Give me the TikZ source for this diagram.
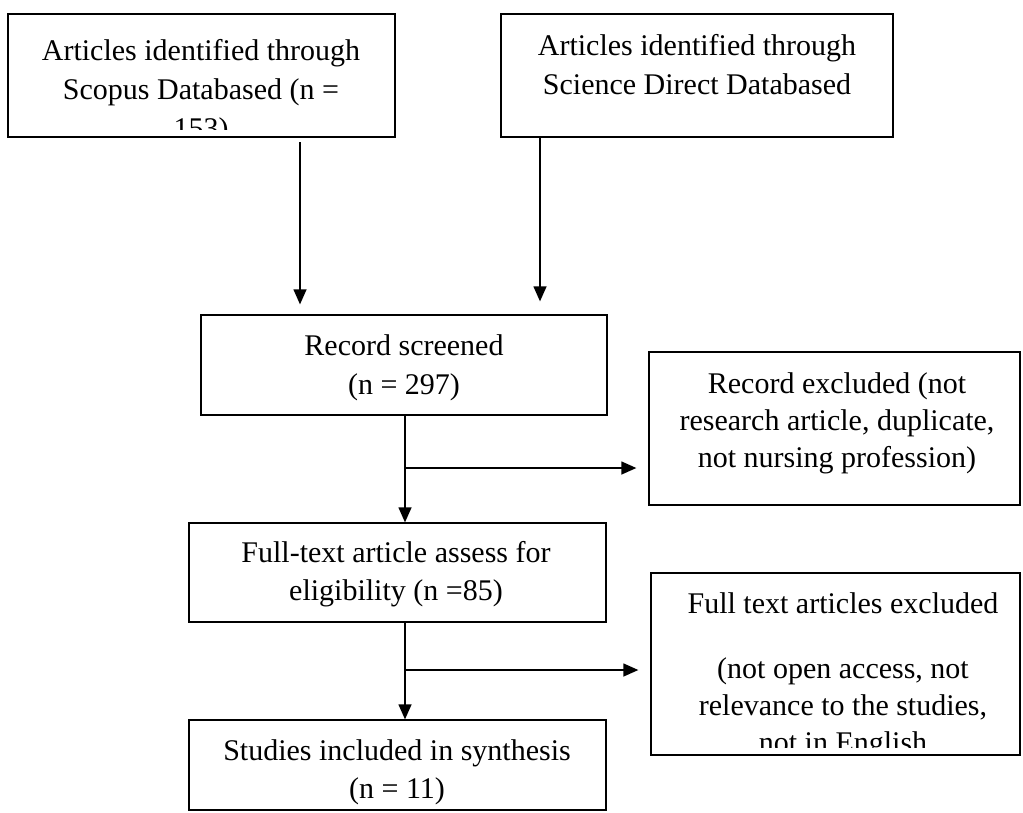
\documentclass[tikz,border=0pt]{standalone}
\usepackage{fontspec}
\setmainfont{Liberation Serif}
\usetikzlibrary{arrows.meta}
\begin{document}
\begin{tikzpicture}[x=1pt,y=-1pt,
  box/.style={draw=black, line width=1.3pt, inner sep=0pt},
  txt/.style={font=\fontsize{30}{38}\selectfont, inner sep=0pt, anchor=base},
  arr/.style={line width=1.3pt, -{Triangle[length=15pt,width=13pt]}},
  ln/.style={line width=1.3pt}]
\useasboundingbox (0,0) rectangle (1023,812);
% boxes
\node[box, minimum width=387pt, minimum height=123pt] (A) at (201.5,75.5) {};
\node[box, minimum width=392pt, minimum height=123pt] (B) at (697,75.5) {};
\node[box, minimum width=406pt, minimum height=100pt] (R) at (404,365) {};
\node[box, minimum width=371pt, minimum height=153pt] (RE) at (834.5,428.5) {};
\node[box, minimum width=417pt, minimum height=99pt] (F) at (397.5,572.5) {};
\node[box, minimum width=369pt, minimum height=182pt] (FE) at (835.5,664) {};
\node[box, minimum width=417pt, minimum height=90pt] (S) at (397.5,765) {};
% texts
\begin{scope}
\clip (8,14) rectangle (395,129);
\node[txt] (a1) at (201,60) {Articles identified through};
\node[txt] (a2) at (201,99) {Scopus Databased (n =};
\node[txt] (a3) at (201,138) {153)};
\end{scope}
\node[txt] (b1) at (697,55) {Articles identified through};
\node[txt] (b2) at (697,94) {Science Direct Databased};
\node[txt] (r1) at (404,355) {Record screened};
\node[txt] (r2) at (404,394) {(n = 297)};
\node[txt] (re1) at (837,393) {Record excluded (not};
\node[txt] (re2) at (837,430) {research article, duplicate,};
\node[txt] (re3) at (837,467) {not nursing profession)};
\node[txt] (f1) at (396,562) {Full-text article assess for};
\node[txt] (f2) at (396,600) {eligibility (n =85)};
\begin{scope}
\clip (651,573) rectangle (1020,747);
\node[txt] (fe1) at (843,613) {Full text articles excluded};
\node[txt] (fe2) at (843,678) {(not open access, not};
\node[txt] (fe3) at (843,715) {relevance to the studies,};
\node[txt] (fe4) at (843,752) {not in English};
\end{scope}
\node[txt] (s1) at (397,760) {Studies included in synthesis};
\node[txt] (s2) at (397,798) {(n = 11)};
% connectors
\coordinate (aS) at (300,142);
\coordinate (bS) at (540,137);
\draw[arr] (aS) -- ([yshift=10pt]aS |- R.north);
\draw[arr] (B.south -| bS) -- ([yshift=13pt]bS |- R.north);
\coordinate (j1) at (405,468);
\coordinate (j2) at (405,670);
\draw[arr] (R.south -| j1) -- (F.north -| j1);
\draw[arr] (j1) -- ([xshift=-12pt]RE.west |- j1);
\draw[arr] (F.south -| j2) -- (S.north -| j2);
\draw[arr] (j2) -- ([xshift=-12pt]FE.west |- j2);
\end{tikzpicture}
\end{document}
